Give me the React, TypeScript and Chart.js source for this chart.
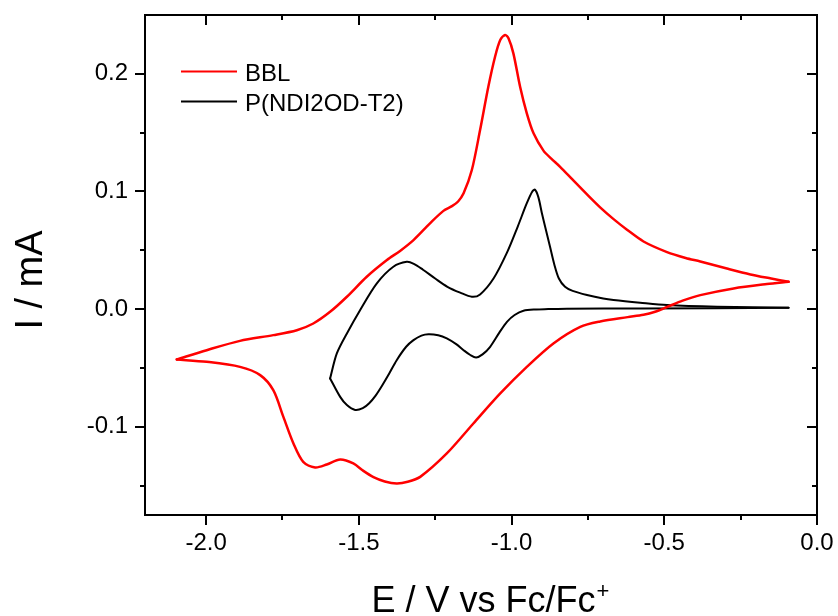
import React, { useEffect, useRef } from 'react';
import { Chart, registerables } from 'chart.js';

Chart.register(...registerables);

// ---- Data (E in V vs Fc/Fc+, I in mA) ----
const seriesNames = ['BBL', 'P(NDI2OD-T2)'];
const seriesColors = ['#ff0000', '#000000'];

// BBL: upper branch, from right vertex to left vertex
const bblUpperE = [-0.093, -0.150, -0.218, -0.295, -0.382, -0.430, -0.491, -0.568, -0.622, -0.666, -0.710, -0.753, -0.800, -0.841, -0.870, -0.895, -0.928, -0.950, -0.972, -0.994, -1.010, -1.021, -1.037, -1.054, -1.076, -1.103, -1.130, -1.157, -1.175, -1.195, -1.223, -1.267, -1.321, -1.365, -1.408, -1.474, -1.539, -1.594, -1.649, -1.703, -1.780, -1.889, -1.998, -2.096];
const bblUpperI = [0.0232, 0.026, 0.0295, 0.0345, 0.0405, 0.0435, 0.0485, 0.0575, 0.0675, 0.0765, 0.0865, 0.0975, 0.110, 0.121, 0.128, 0.1345, 0.1494, 0.1664, 0.189, 0.2174, 0.2302, 0.233, 0.2287, 0.2145, 0.189, 0.1522, 0.1182, 0.0984, 0.0915, 0.0875, 0.0835, 0.0729, 0.0587, 0.0495, 0.0417, 0.0275, 0.0105, -0.0023, -0.0122, -0.0179, -0.0221, -0.027, -0.0349, -0.0428];
// BBL: lower branch, from left vertex to right vertex
const bblLowerE = [-2.096, -1.998, -1.889, -1.823, -1.780, -1.747, -1.714, -1.682, -1.643, -1.605, -1.561, -1.518, -1.485, -1.452, -1.415, -1.376, -1.340, -1.299, -1.212, -1.125, -1.037, -0.950, -0.863, -0.775, -0.710, -0.620, -0.568, -0.530, -0.491, -0.440, -0.382, -0.273, -0.164, -0.093];
const bblLowerI = [-0.0428, -0.0448, -0.0491, -0.0561, -0.0689, -0.0916, -0.1142, -0.1298, -0.1346, -0.1321, -0.1278, -0.1312, -0.1375, -0.1428, -0.1465, -0.1482, -0.1468, -0.1426, -0.1227, -0.0972, -0.0717, -0.0491, -0.0292, -0.0151, -0.0105, -0.0068, -0.0048, -0.0022, 0.0018, 0.0072, 0.0119, 0.0176, 0.0213, 0.0232];

// P(NDI2OD-T2): upper branch, from right end to left vertex
const ndiUpperE = [-0.093, -0.327, -0.491, -0.579, -0.666, -0.700, -0.753, -0.800, -0.825, -0.845, -0.860, -0.874, -0.890, -0.901, -0.912, -0.923, -0.932, -0.950, -0.980, -1.015, -1.059, -1.103, -1.130, -1.168, -1.210, -1.250, -1.290, -1.320, -1.343, -1.387, -1.441, -1.496, -1.539, -1.572, -1.594];
const ndiUpperI = [0.0011, 0.002, 0.0034, 0.0054, 0.0077, 0.009, 0.012, 0.0155, 0.019, 0.026, 0.038, 0.053, 0.070, 0.082, 0.095, 0.1015, 0.1, 0.09, 0.07, 0.048, 0.026, 0.0125, 0.0105, 0.014, 0.019, 0.026, 0.0335, 0.0385, 0.0402, 0.036, 0.0219, -0.0009, -0.0207, -0.0377, -0.0589];
// P(NDI2OD-T2): lower branch, from left vertex to right end
const ndiLowerE = [-1.594, -1.561, -1.539, -1.512, -1.487, -1.466, -1.445, -1.425, -1.400, -1.376, -1.345, -1.321, -1.295, -1.272, -1.240, -1.212, -1.180, -1.157, -1.135, -1.116, -1.095, -1.070, -1.040, -1.015, -0.990, -0.961, -0.920, -0.880, -0.819, -0.579, -0.093];
const ndiLowerI = [-0.0589, -0.0746, -0.0816, -0.0857, -0.0842, -0.0800, -0.0735, -0.0655, -0.0545, -0.0434, -0.032, -0.0264, -0.0225, -0.0213, -0.0222, -0.0249, -0.030, -0.0349, -0.039, -0.0411, -0.0385, -0.032, -0.020, -0.0108, -0.005, -0.0014, -0.0003, 0.0, 0.0004, 0.0005, 0.0011];

// ---- Axes ----
const xMin = -2.2;
const xMax = 0.0;
const yMin = -0.175;
const yMax = 0.25;
const xMajorTicks = [-2.0, -1.5, -1.0, -0.5, 0.0];
const xMinorTicks = [-1.75, -1.25, -0.75, -0.25];
const yMajorTicks = [-0.1, 0.0, 0.1, 0.2];
const yMinorTicks = [-0.15, -0.05, 0.05, 0.15];
const xTitle = 'E / V vs Fc/Fc';
const xTitleSup = '+';
const yTitle = 'I / mA';

const FONT = '"Liberation Sans", Arial, Helvetica, sans-serif';

const pts = (xs: number[], ys: number[]) => xs.map((x, i) => ({ x, y: ys[i] }));

export default function App() {
  const ref = useRef<HTMLCanvasElement>(null);

  useEffect(() => {
    document.body.style.margin = '0';
    const canvas = ref.current;
    if (!canvas) return;

    const decorPlugin = {
      id: 'decor',
      afterDraw(chart: any) {
        const { ctx, chartArea: a, scales } = chart;
        const sx = scales.x;
        const sy = scales.y;
        ctx.save();
        ctx.strokeStyle = '#000';
        ctx.lineWidth = 2;
        ctx.lineCap = 'square';
        ctx.strokeRect(a.left, a.top, a.right - a.left, a.bottom - a.top);
        ctx.lineCap = 'butt';
        const seg = (x1: number, y1: number, x2: number, y2: number) => {
          ctx.beginPath();
          ctx.moveTo(x1, y1);
          ctx.lineTo(x2, y2);
          ctx.stroke();
        };
        xMajorTicks.forEach((v) => {
          const p = Math.round(sx.getPixelForValue(v));
          seg(p, a.bottom, p, a.bottom + 10);
          seg(p, a.top, p, a.top + 10);
        });
        xMinorTicks.forEach((v) => {
          const p = Math.round(sx.getPixelForValue(v));
          seg(p, a.bottom, p, a.bottom + 5);
          seg(p, a.top, p, a.top + 5);
        });
        yMajorTicks.forEach((v) => {
          const p = Math.round(sy.getPixelForValue(v));
          seg(a.left - 10, p, a.left, p);
          seg(a.right - 10, p, a.right, p);
        });
        yMinorTicks.forEach((v) => {
          const p = Math.round(sy.getPixelForValue(v));
          seg(a.left - 5, p, a.left, p);
          seg(a.right - 5, p, a.right, p);
        });

        // Legend
        ctx.font = `24px ${FONT}`;
        ctx.fillStyle = '#000';
        ctx.textAlign = 'left';
        ctx.textBaseline = 'alphabetic';
        const legY = [71.5, 101.5];
        seriesNames.forEach((name, i) => {
          ctx.strokeStyle = seriesColors[i];
          ctx.lineWidth = 2;
          seg(181, legY[i], 237, legY[i]);
          ctx.fillText(name, 245, legY[i] + 9);
        });

        // X title with superscript
        ctx.font = `36px ${FONT}`;
        const w1 = ctx.measureText(xTitle).width;
        ctx.font = `22px ${FONT}`;
        const w2 = ctx.measureText(xTitleSup).width;
        const start = 490 - (w1 + w2) / 2;
        ctx.font = `36px ${FONT}`;
        ctx.fillText(xTitle, start, 612);
        ctx.font = `22px ${FONT}`;
        ctx.fillText(xTitleSup, start + w1 + 1, 598);

        // Y title (rotated)
        ctx.save();
        ctx.translate(42, 280);
        ctx.rotate(-Math.PI / 2);
        ctx.font = `38px ${FONT}`;
        ctx.textAlign = 'center';
        ctx.fillText(yTitle, 0, 0);
        ctx.restore();

        ctx.restore();
      },
    };

    const ds = (data: { x: number; y: number }[], color: string, width: number) => ({
      data,
      showLine: true,
      borderColor: color,
      backgroundColor: color,
      borderWidth: width,
      pointRadius: 0,
      pointHoverRadius: 0,
      tension: 0.3,
      fill: false,
      borderJoinStyle: 'round' as const,
      borderCapStyle: 'round' as const,
    });

    const zeroPad = (scale: any) => {
      scale.paddingLeft = 0;
      scale.paddingRight = 0;
      scale.paddingTop = 0;
      scale.paddingBottom = 0;
    };

    const chart = new Chart(canvas, {
      type: 'scatter',
      data: {
        datasets: [
          ds(pts(bblUpperE, bblUpperI), seriesColors[0], 2.5),
          ds(pts(bblLowerE, bblLowerI), seriesColors[0], 2.5),
          ds(pts(ndiUpperE, ndiUpperI), seriesColors[1], 2),
          ds(pts(ndiLowerE, ndiLowerI), seriesColors[1], 2),
        ],
      },
      options: {
        animation: false,
        responsive: false,
        maintainAspectRatio: false,
        devicePixelRatio: 1,
        layout: { padding: { left: 0, top: 15, right: 21, bottom: 0 } },
        plugins: {
          legend: { display: false },
          tooltip: { enabled: false },
          title: { display: false },
        },
        events: [],
        scales: {
          x: {
            type: 'linear',
            min: xMin,
            max: xMax,
            grid: { display: false, drawTicks: false, tickLength: 0 },
            border: { display: false },
            afterBuildTicks: (scale: any) => {
              scale.ticks = xMajorTicks.map((v) => ({ value: v }));
            },
            afterFit: (scale: any) => {
              scale.height = 101;
              zeroPad(scale);
            },
            ticks: {
              autoSkip: false,
              maxRotation: 0,
              padding: 14,
              color: '#000',
              font: { family: FONT, size: 24 },
              callback: (v: any) => Number(v).toFixed(1),
            },
          },
          y: {
            type: 'linear',
            min: yMin,
            max: yMax,
            grid: { display: false, drawTicks: false, tickLength: 0 },
            border: { display: false },
            afterBuildTicks: (scale: any) => {
              scale.ticks = yMajorTicks.map((v) => ({ value: v }));
            },
            afterFit: (scale: any) => {
              scale.width = 145;
              zeroPad(scale);
            },
            ticks: {
              autoSkip: false,
              padding: 17,
              color: '#000',
              font: { family: FONT, size: 24 },
              callback: (v: any) => Number(v).toFixed(1),
            },
          },
        },
      },
      plugins: [decorPlugin],
    } as any);

    return () => chart.destroy();
  }, []);

  return (
    <div style={{ width: 838, height: 616, overflow: 'hidden' }}>
      <canvas ref={ref} width={838} height={616} style={{ display: 'block' }} />
    </div>
  );
}
